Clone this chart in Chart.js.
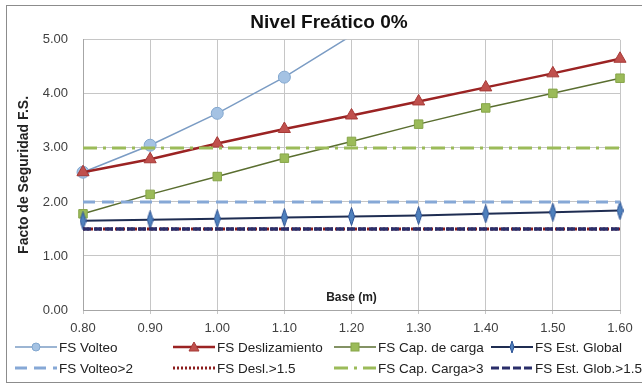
<!DOCTYPE html>
<html>
<head>
<meta charset="utf-8">
<script src="https://cdn.jsdelivr.net/npm/chart.js@4.4.1/dist/chart.umd.min.js"></script>
<style>
  html, body { margin: 0; padding: 0; background: #fff; }
  #wrap { position: relative; width: 642px; height: 387px; overflow: hidden; background: #fff; }
  #frame { position: absolute; left: 6px; top: 5px; width: 640px; height: 378px; border: 1px solid #8c8c8c; border-right: none; box-sizing: border-box; pointer-events: none; }
  #chart { position: absolute; left: 0; top: 0; }
  #legend { position: absolute; left: 0; top: 337px; width: 642px; height: 44px; font-family: "Liberation Sans", Arial, sans-serif; font-size: 13.5px; color: #222; }
  .item { position: absolute; height: 20px; display: flex; align-items: center; white-space: nowrap; }
  .item svg { margin-right: 1px; }
</style>
</head>
<body>
<div id="wrap">
  <canvas id="chart" width="642" height="387"></canvas>
  <div id="legend"></div>
  <div id="frame"></div>
</div>
<script>
// ---- data ----
const chartTitle = 'Nivel Freático 0%';
const xTitle = 'Base (m)';
const yTitle = 'Facto de Seguridad F.S.';
const baseLabels = ['0.80', '0.90', '1.00', '1.10', '1.20', '1.30', '1.40', '1.50', '1.60'];
const fsVolteo = [2.55, 3.05, 3.64, 4.31, 5.08, 5.80, 6.50, 7.20, 7.90];
const fsDeslizamiento = [2.55, 2.79, 3.08, 3.35, 3.60, 3.86, 4.12, 4.38, 4.65];
const fsCapCarga = [1.78, 2.14, 2.47, 2.81, 3.12, 3.44, 3.74, 4.01, 4.29];
const fsEstGlobal = [1.65, 1.67, 1.69, 1.71, 1.73, 1.75, 1.78, 1.81, 1.84];
const limVolteo = [2, 2, 2, 2, 2, 2, 2, 2, 2];
const limDesl = [1.5, 1.5, 1.5, 1.5, 1.5, 1.5, 1.5, 1.5, 1.5];
const limCapCarga = [3, 3, 3, 3, 3, 3, 3, 3, 3];
const limEstGlob = [1.5, 1.5, 1.5, 1.5, 1.5, 1.5, 1.5, 1.5, 1.5];
const yTicks = [0, 1, 2, 3, 4, 5];

// narrow diamond marker for the global stability series
function makeDiamond(w, h, fill, stroke) {
  const c = document.createElement('canvas');
  c.width = w; c.height = h;
  const g = c.getContext('2d');
  g.beginPath();
  g.moveTo(w / 2, 0.5); g.lineTo(w - 0.5, h / 2); g.lineTo(w / 2, h - 0.5); g.lineTo(0.5, h / 2); g.closePath();
  g.fillStyle = fill; g.fill();
  g.strokeStyle = stroke; g.lineWidth = 1; g.stroke();
  return c;
}
const diamond = makeDiamond(7, 19, '#4f81bd', '#2f5597');

const YMAX = 5;
const hideAbove = (r) => (ctx) => { const v = ctx.raw; return (v != null && v > YMAX) ? 0 : r; };
const seriesClip = { left: 12, right: 12, top: 0, bottom: 12 };

const datasets = [
  { label: 'FS Volteo', data: fsVolteo, borderColor: '#7b9cc4', borderWidth: 1.5,
    pointStyle: 'circle', pointRadius: hideAbove(6), pointBackgroundColor: '#a4c2e3', pointBorderColor: '#82a7cf', pointBorderWidth: 1,
    clip: seriesClip, lg: { marker: 'circle', dash: '' } },
  { label: 'FS Deslizamiento', data: fsDeslizamiento, borderColor: '#9b2323', borderWidth: 2.5,
    pointStyle: 'triangle', pointRadius: 7, pointBackgroundColor: '#c0504d', pointBorderColor: '#a63a37', pointBorderWidth: 1,
    clip: seriesClip, lg: { marker: 'triangle', dash: '' } },
  { label: 'FS Cap. de carga', data: fsCapCarga, borderColor: '#5a6e30', borderWidth: 1.5,
    pointStyle: 'rect', pointRadius: 6, pointBackgroundColor: '#9bbb59', pointBorderColor: '#86a548', pointBorderWidth: 1,
    clip: seriesClip, lg: { marker: 'rect', dash: '' } },
  { label: 'FS Est. Global', data: fsEstGlobal, borderColor: '#1f2d52', borderWidth: 2,
    pointStyle: diamond, pointRadius: 6, pointBackgroundColor: '#4f81bd', pointBorderColor: '#2f5597',
    clip: seriesClip, lg: { marker: 'diamond', dash: '' } },
  { label: 'FS Volteo>2', data: limVolteo, borderColor: '#86a8d6', borderWidth: 3, borderDash: [12, 7],
    pointRadius: 0, clip: seriesClip, lg: { marker: null, dash: '12 7' } },
  { label: 'FS Desl.>1.5', data: limDesl, borderColor: '#8b1c1c', borderWidth: 3, borderDash: [2, 2],
    pointRadius: 0, clip: seriesClip, lg: { marker: null, dash: '2 2' } },
  { label: 'FS Cap. Carga>3', data: limCapCarga, borderColor: '#9bbb59', borderWidth: 3, borderDash: [14, 6, 3, 6],
    pointRadius: 0, clip: seriesClip, lg: { marker: null, dash: '14 6 3 6' } },
  { label: 'FS Est. Glob.>1.5', data: limEstGlob, borderColor: '#2a2e6a', borderWidth: 3.5, borderDash: [8, 3],
    pointRadius: 0, clip: seriesClip, lg: { marker: null, dash: '8 3' } }
];
// later series on top, like the original
datasets.forEach((d, i) => { d.order = datasets.length - i; d.fill = false; d.tension = 0; d.pointHoverRadius = d.pointRadius; });

// HTML legend, 4 columns x 2 rows
const legendCols = [14, 172, 333, 490];
const legendRows = [0, 21];
function sampleSvg(ds) {
  const w = 44, h = 16, y = 8;
  let s = `<svg width="${w}" height="${h}" xmlns="http://www.w3.org/2000/svg">`;
  s += `<line x1="1" y1="${y}" x2="${w - 1}" y2="${y}" stroke="${ds.borderColor}" stroke-width="${Math.min(ds.borderWidth, 3)}"${ds.lg.dash ? ` stroke-dasharray="${ds.lg.dash}"` : ''}/>`;
  const cx = w / 2, f = ds.pointBackgroundColor, st = ds.pointBorderColor;
  if (ds.lg.marker === 'circle') s += `<circle cx="${cx}" cy="${y}" r="4" fill="${f}" stroke="${st}"/>`;
  if (ds.lg.marker === 'triangle') s += `<polygon points="${cx},${y - 5} ${cx + 5},${y + 4} ${cx - 5},${y + 4}" fill="${f}" stroke="${st}"/>`;
  if (ds.lg.marker === 'rect') s += `<rect x="${cx - 4}" y="${y - 4}" width="8" height="8" fill="${f}" stroke="${st}"/>`;
  if (ds.lg.marker === 'diamond') s += `<polygon points="${cx},${y - 6} ${cx + 2},${y} ${cx},${y + 6} ${cx - 2},${y}" fill="${f}" stroke="${st}"/>`;
  return s + '</svg>';
}
function buildLegend(chart) {
  const box = document.getElementById('legend');
  box.innerHTML = '';
  chart.data.datasets.forEach((ds, i) => {
    const el = document.createElement('div');
    el.className = 'item';
    el.style.left = legendCols[i % 4] + 'px';
    el.style.top = legendRows[Math.floor(i / 4)] + 'px';
    el.innerHTML = sampleSvg(ds) + '<span>' + ds.label + '</span>';
    box.appendChild(el);
  });
}

const fontMain = '"Liberation Sans", Arial, sans-serif';
new Chart(document.getElementById('chart'), {
  type: 'line',
  data: { labels: baseLabels, datasets },
  plugins: [{ id: 'htmlLegend', afterUpdate: buildLegend }],
  options: {
    responsive: false,
    animation: false,
    events: [],
    layout: { padding: { left: 16, right: 0, top: 6, bottom: 44 } },
    plugins: {
      legend: { display: false },
      tooltip: { enabled: false },
      title: { display: true, text: chartTitle, color: '#111', font: { family: fontMain, size: 19, weight: 'bold', lineHeight: 1.15 }, padding: { top: 6, bottom: 6 } }
    },
    scales: {
      x: {
        type: 'category', offset: false,
        grid: { color: '#c6c6c6', lineWidth: 1, drawTicks: true, tickLength: 4 },
        border: { color: '#a6a6a6' },
        ticks: { color: '#404040', font: { family: fontMain, size: 13 }, padding: 7, maxRotation: 0, autoSkip: false },
        title: { display: true, text: xTitle, color: '#222', font: { family: fontMain, size: 12, weight: 'bold' }, padding: { top: -53, bottom: 38 } }
      },
      y: {
        min: 0, max: YMAX,
        afterBuildTicks: (s) => { s.ticks = yTicks.map(v => ({ value: v })); },
        afterFit: (s) => { s.width = 67; },
        grid: { color: '#c6c6c6', lineWidth: 1, drawTicks: false },
        border: { color: '#a6a6a6' },
        ticks: { color: '#404040', font: { family: fontMain, size: 13 }, padding: 15, callback: (v) => Number(v).toFixed(2) },
        title: { display: true, text: yTitle, color: '#222', font: { family: fontMain, size: 14, weight: 'bold' }, padding: { top: 0, bottom: 0 } }
      },
      y2: {
        position: 'right', display: true, min: 0, max: YMAX,
        grid: { display: false, drawTicks: false }, border: { display: false },
        ticks: { display: false },
        afterFit: (s) => { s.width = 22; }
      }
    }
  }
});
</script>
</body>
</html>
